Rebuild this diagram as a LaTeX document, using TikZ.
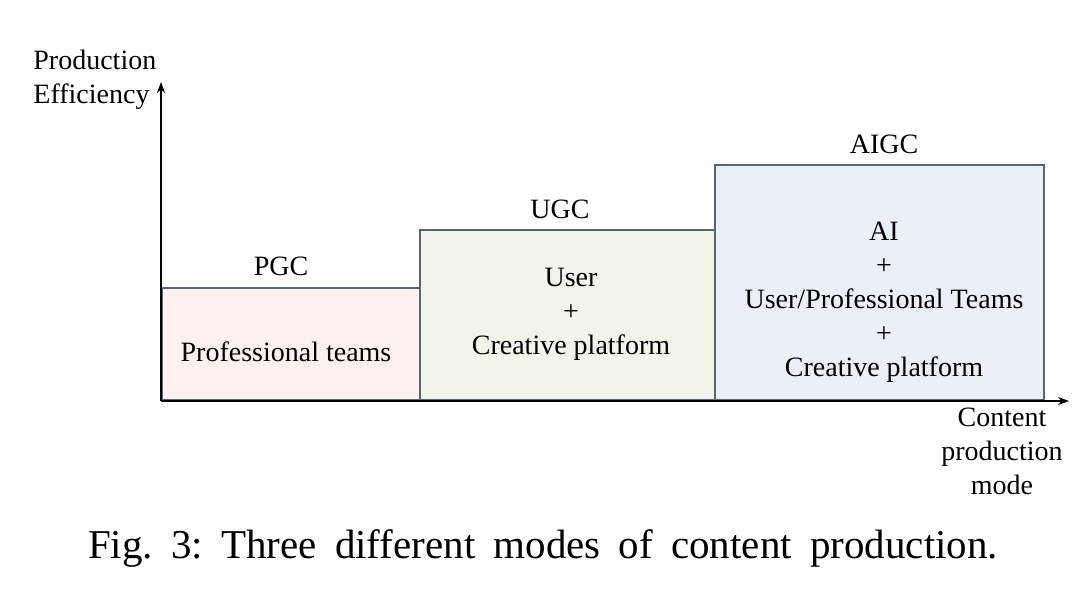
\documentclass[tikz,border=0pt]{standalone}
\usepackage{fontspec}
\setmainfont{Liberation Serif}
\usetikzlibrary{arrows.meta}
\definecolor{pgcfill}{HTML}{FCF1EE}
\definecolor{ugcfill}{HTML}{F1F5E9}
\definecolor{aigcfill}{HTML}{E9F0F7}
\definecolor{boxline}{HTML}{5A6472}
\frenchspacing
\begin{document}
\begin{tikzpicture}[x=0.5pt,y=-0.5pt,
  modebox/.style={draw=boxline,line width=0.8pt,inner sep=0pt,anchor=south west},
  lbl/.style={font=\fontsize{14pt}{17pt}\selectfont,inner sep=0pt,align=center},
  axis/.style={line width=0.9pt,-{Stealth[length=5.5pt,width=4pt]}}]
\useasboundingbox (0,0) rectangle (1080,598);
\coordinate (O) at (161,401);
\coordinate (ytip) at (161,82);
\coordinate (xtip) at (1069,401);
\node[modebox,fill=pgcfill,minimum width=129pt,minimum height=56pt] (pgc) at (161,401) {};
\node[modebox,fill=ugcfill,minimum width=147.5pt,minimum height=85pt] (ugc) at (419,401) {};
\node[modebox,fill=aigcfill,minimum width=164.5pt,minimum height=117.5pt] (aigc) at (714,401) {};
\draw[axis] (O) -- (ytip);
\draw[axis] (O) -- (xtip);
\node[lbl] (pgct) at (286,352) {Professional teams};
\node[lbl] (ugct) at (571,314) {User\\+\\Creative platform};
\node[lbl] (aigct) at (884,302) {AI\\+\\User/Professional Teams\\+\\Creative platform};
\node[lbl] (pgcl) at (281,266) {PGC};
\node[lbl] (ugcl) at (560,209) {UGC};
\node[lbl] (aigcl) at (884,144) {AIGC};
\node[lbl,align=left,anchor=west] (yl) at (33,80) {Production\\Efficiency};
\node[lbl] (xl) at (1002,451) {Content\\production\\mode};
\node[inner sep=0pt,font=\fontsize{20.5pt}{24pt}\selectfont] (cap) at (543,548)
  {\hbox to 455pt{Fig. 3: Three different modes of content production.}};
\end{tikzpicture}
\end{document}
